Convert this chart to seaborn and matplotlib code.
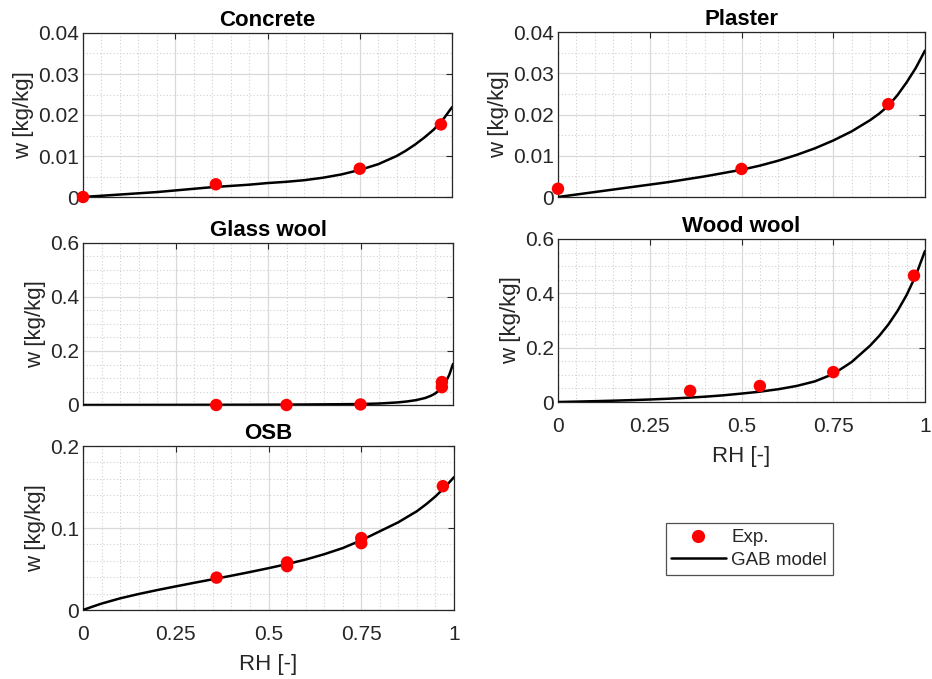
import matplotlib
matplotlib.use("Agg")
import matplotlib.pyplot as plt
from matplotlib.lines import Line2D
from matplotlib.ticker import MultipleLocator, FuncFormatter
import seaborn as sns

sns.set_theme(style="white")
plt.rcParams["font.family"] = ["Liberation Sans", "DejaVu Sans"]

# ---- measured sorption points (Exp.) ----
conc_rh = [0.0, 0.36, 0.75, 0.97]
conc_w = [0.0, 0.0031, 0.0069, 0.0177]

plas_rh = [0.0, 0.50, 0.90]
plas_w = [0.0020, 0.0068, 0.0225]

glass_rh = [0.36, 0.55, 0.75, 0.97, 0.97]
glass_w = [0.0, 0.0, 0.002, 0.066, 0.085]

wood_rh = [0.36, 0.55, 0.75, 0.97]
wood_w = [0.041, 0.059, 0.110, 0.465]

osb_rh = [0.36, 0.55, 0.55, 0.75, 0.75, 0.97]
osb_w = [0.0395, 0.0535, 0.058, 0.0815, 0.0877, 0.151]

# ---- GAB model curves ----
conc_fit_rh = [0, 0.05, 0.1, 0.15, 0.2, 0.25, 0.3, 0.35, 0.4, 0.45, 0.5, 0.55, 0.6, 0.65,
               0.7, 0.75, 0.8, 0.85, 0.875, 0.9, 0.925, 0.95, 0.975, 1.0]
conc_fit_w = [0, 0.0003, 0.0006, 0.0009, 0.0012, 0.0016, 0.0020, 0.0024, 0.0027, 0.0030,
              0.0034, 0.0037, 0.0041, 0.0047, 0.0055, 0.0066, 0.0080, 0.0100, 0.0113,
              0.0128, 0.0145, 0.0164, 0.0188, 0.0219]

plas_fit_rh = [0, 0.05, 0.1, 0.15, 0.2, 0.25, 0.3, 0.35, 0.4, 0.45, 0.5, 0.55, 0.6, 0.65,
               0.7, 0.75, 0.8, 0.85, 0.875, 0.9, 0.925, 0.95, 0.975, 1.0]
plas_fit_w = [0, 0.0006, 0.0012, 0.0018, 0.0024, 0.0030, 0.0036, 0.0043, 0.0050, 0.0058,
              0.0066, 0.0076, 0.0088, 0.0102, 0.0118, 0.0137, 0.0159, 0.0186, 0.0202,
              0.0221, 0.0247, 0.0278, 0.0313, 0.0355]

glass_fit_rh = [0, 0.1, 0.2, 0.3, 0.4, 0.5, 0.6, 0.7, 0.75, 0.8, 0.85, 0.875, 0.9, 0.925,
                0.94, 0.95, 0.96, 0.97, 0.98, 0.99, 1.0]
glass_fit_w = [0, 0.0002, 0.0004, 0.0006, 0.0009, 0.0013, 0.0019, 0.0029, 0.0037, 0.0055,
               0.0095, 0.013, 0.018, 0.026, 0.034, 0.041, 0.051, 0.065, 0.084, 0.112, 0.152]

wood_fit_rh = [0, 0.05, 0.1, 0.15, 0.2, 0.25, 0.3, 0.35, 0.4, 0.45, 0.5, 0.55, 0.6, 0.65,
               0.7, 0.75, 0.8, 0.85, 0.875, 0.9, 0.925, 0.95, 0.975, 1.0]
wood_fit_w = [0, 0.0014, 0.003, 0.0048, 0.0068, 0.0092, 0.012, 0.0155, 0.0195, 0.0245,
              0.031, 0.038, 0.047, 0.059, 0.076, 0.103, 0.147, 0.207, 0.243, 0.285, 0.335,
              0.394, 0.466, 0.556]

osb_fit_rh = [0, 0.025, 0.05, 0.1, 0.15, 0.2, 0.25, 0.3, 0.35, 0.4, 0.45, 0.5, 0.55, 0.6,
              0.65, 0.7, 0.75, 0.8, 0.85, 0.9, 0.925, 0.95, 0.975, 1.0]
osb_fit_w = [0, 0.004, 0.0078, 0.0142, 0.0195, 0.0243, 0.0288, 0.0332, 0.0375, 0.0418,
             0.0463, 0.051, 0.056, 0.0615, 0.068, 0.0755, 0.085, 0.096, 0.107, 0.1205,
             0.129, 0.1385, 0.1495, 0.162]

titles = ["Concrete", "Plaster", "Glass wool", "Wood wool", "OSB"]
x_ticks = [0, 0.25, 0.5, 0.75, 1]
legend_labels = ["Exp.", "GAB model"]

W, H = 932, 679
fig = plt.figure(figsize=(W / 100, H / 100), dpi=100)


def px_axes(left, top, right, bottom):
    return fig.add_axes([left / W, 1 - bottom / H, (right - left) / W, (bottom - top) / H])


panels = [
    # box in pixels, data, y max, y major, y minor, show x labels
    ((83, 33, 452, 197), conc_rh, conc_w, conc_fit_rh, conc_fit_w, 0.04, 0.01, 0.005, False),
    ((558, 32, 925, 197), plas_rh, plas_w, plas_fit_rh, plas_fit_w, 0.04, 0.01, 0.005, False),
    ((83, 243, 453, 405), glass_rh, glass_w, glass_fit_rh, glass_fit_w, 0.6, 0.2, 0.05, False),
    ((558, 239, 925, 402), wood_rh, wood_w, wood_fit_rh, wood_fit_w, 0.6, 0.2, 0.05, True),
    ((83, 446, 454, 610), osb_rh, osb_w, osb_fit_rh, osb_fit_w, 0.2, 0.1, 0.02, True),
]

axis_col = "#262626"
for title, (box, rh, w, frh, fw, ymax, ymaj, ymin, xlab) in zip(titles, panels):
    ax = px_axes(*box)
    sns.lineplot(x=frh, y=fw, ax=ax, color="black", linewidth=1.8, sort=False,
                 estimator=None, zorder=3)
    sns.scatterplot(x=rh, y=w, ax=ax, color="red", s=80, edgecolor="none", zorder=4,
                    clip_on=False)
    ax.set_xlim(0, 1)
    ax.set_ylim(0, ymax)
    ax.set_xticks(x_ticks)
    ax.xaxis.set_minor_locator(MultipleLocator(0.05))
    ax.yaxis.set_major_locator(MultipleLocator(ymaj))
    ax.yaxis.set_minor_locator(MultipleLocator(ymin))
    ax.yaxis.set_major_formatter(FuncFormatter(lambda v, p: f"{v:g}"))
    ax.xaxis.set_major_formatter(FuncFormatter(lambda v, p: f"{v:g}"))
    ax.grid(which="major", color="#d9d9d9", linewidth=0.9, linestyle="-")
    ax.grid(which="minor", color="#d0d0d0", linewidth=0.8, linestyle=(0, (1, 2)))
    ax.set_axisbelow(True)
    ax.tick_params(which="both", direction="in", top=True, right=True,
                   colors=axis_col, labelsize=15)
    ax.tick_params(axis="y", pad=3)
    ax.tick_params(axis="x", pad=11)
    ax.tick_params(which="major", length=4, width=0.8)
    ax.tick_params(which="minor", length=0)
    for s in ax.spines.values():
        s.set_color(axis_col)
        s.set_linewidth(0.9)
    if not xlab:
        ax.tick_params(labelbottom=False)
        ax.set_xlabel("")
    else:
        ax.set_xlabel("RH [-]", fontsize=16, color=axis_col, labelpad=7)
    ax.set_ylabel("w [kg/kg]", fontsize=16, color=axis_col, labelpad=3)
    ax.set_title(title, fontsize=16, fontweight="bold", color="black", pad=5)

handles = [
    Line2D([], [], linestyle="none", marker="o", markersize=9.5, markerfacecolor="red",
           markeredgecolor="none"),
    Line2D([], [], color="black", linewidth=1.8),
]
leg = fig.legend(handles, legend_labels, loc="center",
                 bbox_to_anchor=(749 / W, 1 - 549 / H),
                 fontsize=13.5, frameon=True, fancybox=False,
                 handlelength=2.9, borderpad=0.3, labelspacing=0.3, handletextpad=0.3,
                 borderaxespad=0)
leg.get_frame().set_edgecolor(axis_col)
leg.get_frame().set_linewidth(0.9)

fig.savefig("out.png", dpi=100, facecolor="white")
